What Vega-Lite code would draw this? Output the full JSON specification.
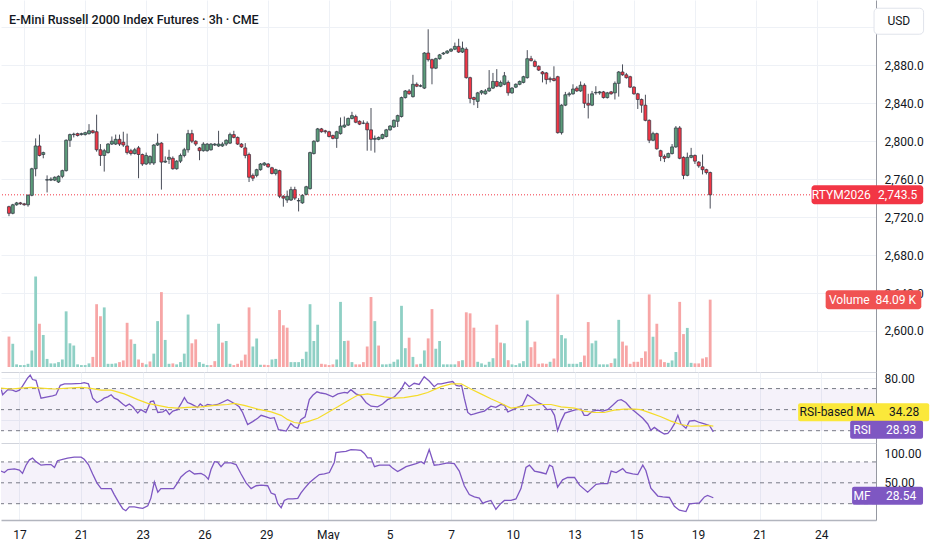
{
  "$schema": "https://vega.github.io/schema/vega-lite/v6.json",
  "background": "white",
  "padding": 0,
  "bounds": "flush",
  "spacing": 0,
  "config": {
    "font": "Roboto",
    "view": {"stroke": null},
    "axis": {"labelFont": "Roboto", "labelFontSize": 12, "labelColor": "#131722", "gridColor": "#eef1f6"}
  },
  "datasets": {
    "candles": [
      {"i":0,"o":2731,"h":2732,"l":2721,"c":2724,"v":38,"vd":"d"},
      {"i":1,"o":2724,"h":2734,"l":2723,"c":2733,"v":29,"vd":"u"},
      {"i":2,"o":2733,"h":2736,"l":2732,"c":2735,"v":3.3,"vd":"u"},
      {"i":3,"o":2735,"h":2736,"l":2733,"c":2734,"v":2.4,"vd":"u"},
      {"i":4,"o":2734,"h":2735,"l":2732,"c":2733,"v":2.4,"vd":"u"},
      {"i":5,"o":2733,"h":2744,"l":2731,"c":2743,"v":4,"vd":"u"},
      {"i":6,"o":2743,"h":2772,"l":2742,"c":2771,"v":20.7,"vd":"u"},
      {"i":7,"o":2771,"h":2803,"l":2763,"c":2795,"v":113,"vd":"u"},
      {"i":8,"o":2795,"h":2807,"l":2784,"c":2785,"v":54,"vd":"d"},
      {"i":9,"o":2786,"h":2789,"l":2782,"c":2788,"v":40,"vd":"u"},
      {"i":10,"o":2759,"h":2764,"l":2746,"c":2759.5,"v":10.1,"vd":"u"},
      {"i":11,"o":2759,"h":2762,"l":2758,"c":2760,"v":4.5,"vd":"u"},
      {"i":12,"o":2759,"h":2763,"l":2758,"c":2762,"v":4.5,"vd":"u"},
      {"i":13,"o":2757,"h":2764,"l":2756,"c":2763,"v":6.1,"vd":"u"},
      {"i":14,"o":2763,"h":2770,"l":2761,"c":2769,"v":9.4,"vd":"u"},
      {"i":15,"o":2769,"h":2802,"l":2768,"c":2801,"v":69.5,"vd":"u"},
      {"i":16,"o":2801,"h":2808,"l":2794,"c":2807,"v":29.6,"vd":"u"},
      {"i":17,"o":2807,"h":2809,"l":2804,"c":2807.5,"v":26.8,"vd":"u"},
      {"i":18,"o":2808,"h":2809,"l":2805,"c":2806,"v":3.3,"vd":"u"},
      {"i":19,"o":2807,"h":2809,"l":2806,"c":2808,"v":2.4,"vd":"u"},
      {"i":20,"o":2807,"h":2810,"l":2806,"c":2809,"v":2.4,"vd":"u"},
      {"i":21,"o":2808,"h":2818,"l":2807,"c":2811,"v":4.5,"vd":"u"},
      {"i":22,"o":2811,"h":2812,"l":2808,"c":2809,"v":12.6,"vd":"d"},
      {"i":23,"o":2810,"h":2828,"l":2789,"c":2791,"v":78.4,"vd":"d"},
      {"i":24,"o":2791,"h":2797,"l":2774,"c":2785,"v":63.4,"vd":"d"},
      {"i":25,"o":2785,"h":2792,"l":2768,"c":2790,"v":74.4,"vd":"u"},
      {"i":26,"o":2788,"h":2798,"l":2787,"c":2797,"v":4,"vd":"u"},
      {"i":27,"o":2797,"h":2805,"l":2796,"c":2800,"v":4,"vd":"u"},
      {"i":28,"o":2797,"h":2807,"l":2796,"c":2802,"v":4.5,"vd":"u"},
      {"i":29,"o":2802,"h":2807,"l":2795,"c":2797,"v":6.1,"vd":"d"},
      {"i":30,"o":2799,"h":2810,"l":2794,"c":2796,"v":8.2,"vd":"d"},
      {"i":31,"o":2795,"h":2808,"l":2786,"c":2788,"v":55.2,"vd":"d"},
      {"i":32,"o":2790,"h":2792,"l":2785,"c":2787,"v":34.5,"vd":"d"},
      {"i":33,"o":2787,"h":2793,"l":2786,"c":2791,"v":28.9,"vd":"u"},
      {"i":34,"o":2793,"h":2795,"l":2761,"c":2786,"v":9.4,"vd":"d"},
      {"i":35,"o":2786,"h":2787,"l":2774,"c":2776,"v":5.2,"vd":"d"},
      {"i":36,"o":2776,"h":2788,"l":2775,"c":2785,"v":3.3,"vd":"u"},
      {"i":37,"o":2777,"h":2785,"l":2775,"c":2784,"v":6.9,"vd":"d"},
      {"i":38,"o":2777,"h":2797,"l":2775,"c":2796,"v":16.7,"vd":"u"},
      {"i":39,"o":2796,"h":2808,"l":2795,"c":2798,"v":57.3,"vd":"u"},
      {"i":40,"o":2798,"h":2799,"l":2749,"c":2778,"v":93.5,"vd":"d"},
      {"i":41,"o":2778,"h":2784,"l":2777,"c":2779,"v":33.8,"vd":"u"},
      {"i":42,"o":2781,"h":2791,"l":2776,"c":2783,"v":4,"vd":"u"},
      {"i":43,"o":2782,"h":2784,"l":2770,"c":2771,"v":4.5,"vd":"d"},
      {"i":44,"o":2771,"h":2780,"l":2770,"c":2779,"v":3.3,"vd":"u"},
      {"i":45,"o":2779,"h":2787,"l":2777,"c":2785,"v":6.1,"vd":"u"},
      {"i":46,"o":2785,"h":2793,"l":2783,"c":2791,"v":16.7,"vd":"u"},
      {"i":47,"o":2791,"h":2812,"l":2788,"c":2808,"v":65.5,"vd":"u"},
      {"i":48,"o":2808,"h":2812,"l":2798,"c":2800,"v":29.6,"vd":"d"},
      {"i":49,"o":2800,"h":2801,"l":2795,"c":2797,"v":34.5,"vd":"d"},
      {"i":50,"o":2793,"h":2794,"l":2780,"c":2790,"v":6.1,"vd":"u"},
      {"i":51,"o":2790,"h":2799,"l":2789,"c":2797,"v":4,"vd":"u"},
      {"i":52,"o":2790,"h":2798,"l":2789,"c":2797,"v":2.4,"vd":"u"},
      {"i":53,"o":2791,"h":2798,"l":2790,"c":2797,"v":2.4,"vd":"d"},
      {"i":54,"o":2796,"h":2798,"l":2795,"c":2797,"v":7.3,"vd":"d"},
      {"i":55,"o":2795,"h":2811,"l":2794,"c":2797,"v":54,"vd":"u"},
      {"i":56,"o":2795,"h":2799,"l":2794,"c":2797,"v":30.5,"vd":"d"},
      {"i":57,"o":2797,"h":2802,"l":2795,"c":2801,"v":32.5,"vd":"u"},
      {"i":58,"o":2798,"h":2809,"l":2797,"c":2807,"v":4,"vd":"u"},
      {"i":59,"o":2807,"h":2811,"l":2803,"c":2804,"v":2.4,"vd":"d"},
      {"i":60,"o":2804,"h":2805,"l":2796,"c":2797,"v":4,"vd":"d"},
      {"i":61,"o":2797,"h":2798,"l":2793,"c":2794,"v":8.2,"vd":"d"},
      {"i":62,"o":2793,"h":2798,"l":2782,"c":2785,"v":15.5,"vd":"d"},
      {"i":63,"o":2786,"h":2788,"l":2757,"c":2762,"v":74.4,"vd":"d"},
      {"i":64,"o":2764,"h":2766,"l":2758,"c":2761,"v":25.6,"vd":"u"},
      {"i":65,"o":2764,"h":2771,"l":2762,"c":2770,"v":35.7,"vd":"u"},
      {"i":66,"o":2770,"h":2777,"l":2769,"c":2776,"v":2.8,"vd":"u"},
      {"i":67,"o":2775,"h":2778,"l":2774,"c":2777,"v":2.8,"vd":"d"},
      {"i":68,"o":2776,"h":2777,"l":2772,"c":2773,"v":2.4,"vd":"d"},
      {"i":69,"o":2772,"h":2773,"l":2765,"c":2766,"v":9.4,"vd":"u"},
      {"i":70,"o":2766,"h":2771,"l":2764,"c":2770,"v":10.1,"vd":"u"},
      {"i":71,"o":2769,"h":2770,"l":2740,"c":2742,"v":71.1,"vd":"d"},
      {"i":72,"o":2742,"h":2743,"l":2731,"c":2740,"v":52.1,"vd":"d"},
      {"i":73,"o":2738,"h":2748,"l":2735,"c":2742,"v":49.1,"vd":"d"},
      {"i":74,"o":2738,"h":2752,"l":2737,"c":2749,"v":6.1,"vd":"u"},
      {"i":75,"o":2749,"h":2752,"l":2738,"c":2740,"v":6.1,"vd":"u"},
      {"i":76,"o":2737,"h":2740,"l":2726,"c":2737.5,"v":6.1,"vd":"u"},
      {"i":77,"o":2735,"h":2744,"l":2734,"c":2743,"v":10.1,"vd":"u"},
      {"i":78,"o":2744,"h":2753,"l":2743,"c":2752,"v":19.1,"vd":"u"},
      {"i":79,"o":2750,"h":2789,"l":2749,"c":2788,"v":78.4,"vd":"u"},
      {"i":80,"o":2787,"h":2801,"l":2786,"c":2800,"v":32.5,"vd":"u"},
      {"i":81,"o":2800,"h":2814,"l":2799,"c":2813,"v":52.8,"vd":"u"},
      {"i":82,"o":2813,"h":2814,"l":2809,"c":2810,"v":4,"vd":"d"},
      {"i":83,"o":2811,"h":2812,"l":2808,"c":2810,"v":3.3,"vd":"d"},
      {"i":84,"o":2810,"h":2811,"l":2804,"c":2805,"v":2.4,"vd":"d"},
      {"i":85,"o":2806,"h":2807,"l":2802,"c":2803,"v":3.3,"vd":"d"},
      {"i":86,"o":2803,"h":2811,"l":2793,"c":2810,"v":9.4,"vd":"u"},
      {"i":87,"o":2808,"h":2825,"l":2807,"c":2816,"v":81.3,"vd":"u"},
      {"i":88,"o":2815,"h":2826,"l":2814,"c":2817,"v":32.5,"vd":"u"},
      {"i":89,"o":2817,"h":2825,"l":2816,"c":2824,"v":32.9,"vd":"d"},
      {"i":90,"o":2824,"h":2831,"l":2823,"c":2827,"v":6.1,"vd":"u"},
      {"i":91,"o":2826,"h":2828,"l":2819,"c":2820,"v":3.3,"vd":"d"},
      {"i":92,"o":2821,"h":2822,"l":2817,"c":2818,"v":3.3,"vd":"d"},
      {"i":93,"o":2819,"h":2822,"l":2818,"c":2819,"v":6.1,"vd":"d"},
      {"i":94,"o":2819,"h":2821,"l":2790,"c":2812,"v":25.6,"vd":"d"},
      {"i":95,"o":2812,"h":2835,"l":2790,"c":2802,"v":87.4,"vd":"d"},
      {"i":96,"o":2802,"h":2806,"l":2788,"c":2803,"v":57.3,"vd":"u"},
      {"i":97,"o":2802,"h":2805,"l":2801,"c":2804,"v":26.8,"vd":"d"},
      {"i":98,"o":2803,"h":2808,"l":2802,"c":2807,"v":3.3,"vd":"u"},
      {"i":99,"o":2805,"h":2813,"l":2804,"c":2812,"v":3.3,"vd":"u"},
      {"i":100,"o":2812,"h":2817,"l":2811,"c":2816,"v":4,"vd":"u"},
      {"i":101,"o":2815,"h":2823,"l":2814,"c":2822,"v":6.5,"vd":"u"},
      {"i":102,"o":2821,"h":2828,"l":2815,"c":2827,"v":9.4,"vd":"u"},
      {"i":103,"o":2826,"h":2847,"l":2825,"c":2846,"v":76.4,"vd":"u"},
      {"i":104,"o":2846,"h":2854,"l":2845,"c":2853,"v":23.5,"vd":"u"},
      {"i":105,"o":2853,"h":2855,"l":2849,"c":2850,"v":36.6,"vd":"d"},
      {"i":106,"o":2847,"h":2870,"l":2846,"c":2860,"v":12.6,"vd":"u"},
      {"i":107,"o":2860,"h":2862,"l":2857,"c":2858,"v":3.3,"vd":"d"},
      {"i":108,"o":2858,"h":2860,"l":2857,"c":2858.5,"v":4,"vd":"u"},
      {"i":109,"o":2856,"h":2894,"l":2855,"c":2893,"v":20.7,"vd":"u"},
      {"i":110,"o":2893,"h":2918,"l":2884,"c":2886,"v":35.7,"vd":"d"},
      {"i":111,"o":2886,"h":2887,"l":2860,"c":2877,"v":72.3,"vd":"d"},
      {"i":112,"o":2877,"h":2888,"l":2876,"c":2887,"v":22.8,"vd":"u"},
      {"i":113,"o":2887,"h":2892,"l":2886,"c":2891,"v":32.5,"vd":"u"},
      {"i":114,"o":2892,"h":2894,"l":2891,"c":2893,"v":3.3,"vd":"u"},
      {"i":115,"o":2893,"h":2896,"l":2892,"c":2895,"v":3.3,"vd":"u"},
      {"i":116,"o":2895,"h":2898,"l":2894,"c":2897,"v":3.3,"vd":"u"},
      {"i":117,"o":2897,"h":2904,"l":2896,"c":2900,"v":3.3,"vd":"u"},
      {"i":118,"o":2900,"h":2908,"l":2893,"c":2894,"v":7.3,"vd":"d"},
      {"i":119,"o":2894,"h":2905,"l":2893,"c":2898,"v":8.5,"vd":"u"},
      {"i":120,"o":2897,"h":2899,"l":2866,"c":2867,"v":68.3,"vd":"d"},
      {"i":121,"o":2867,"h":2868,"l":2840,"c":2845,"v":67,"vd":"d"},
      {"i":122,"o":2846,"h":2847,"l":2838,"c":2844,"v":49.1,"vd":"d"},
      {"i":123,"o":2842,"h":2852,"l":2835,"c":2851,"v":6.5,"vd":"u"},
      {"i":124,"o":2851,"h":2854,"l":2849,"c":2853,"v":4.5,"vd":"u"},
      {"i":125,"o":2850,"h":2855,"l":2849,"c":2853,"v":2.8,"vd":"u"},
      {"i":126,"o":2853,"h":2875,"l":2852,"c":2856,"v":6.5,"vd":"u"},
      {"i":127,"o":2856,"h":2872,"l":2855,"c":2863,"v":11,"vd":"u"},
      {"i":128,"o":2863,"h":2876,"l":2857,"c":2858,"v":52.8,"vd":"d"},
      {"i":129,"o":2858,"h":2864,"l":2857,"c":2862,"v":30.5,"vd":"d"},
      {"i":130,"o":2860,"h":2873,"l":2859,"c":2869,"v":29.6,"vd":"u"},
      {"i":131,"o":2862,"h":2864,"l":2848,"c":2851,"v":8.5,"vd":"d"},
      {"i":132,"o":2851,"h":2857,"l":2850,"c":2856,"v":3.3,"vd":"u"},
      {"i":133,"o":2857,"h":2861,"l":2856,"c":2860,"v":2.4,"vd":"u"},
      {"i":134,"o":2860,"h":2864,"l":2859,"c":2863,"v":4.5,"vd":"u"},
      {"i":135,"o":2862,"h":2869,"l":2861,"c":2868,"v":7.3,"vd":"u"},
      {"i":136,"o":2867,"h":2896,"l":2866,"c":2887,"v":58.1,"vd":"u"},
      {"i":137,"o":2887,"h":2890,"l":2884,"c":2885,"v":24.7,"vd":"d"},
      {"i":138,"o":2884,"h":2886,"l":2878,"c":2879,"v":31.7,"vd":"d"},
      {"i":139,"o":2879,"h":2880,"l":2874,"c":2875,"v":4,"vd":"d"},
      {"i":140,"o":2873,"h":2874,"l":2862,"c":2871,"v":4.5,"vd":"d"},
      {"i":141,"o":2872,"h":2873,"l":2860,"c":2865,"v":4,"vd":"d"},
      {"i":142,"o":2866,"h":2868,"l":2862,"c":2865,"v":6.5,"vd":"u"},
      {"i":143,"o":2866,"h":2879,"l":2863,"c":2864,"v":10.6,"vd":"d"},
      {"i":144,"o":2868,"h":2869,"l":2808,"c":2809,"v":90.6,"vd":"d"},
      {"i":145,"o":2809,"h":2839,"l":2807,"c":2838,"v":39.9,"vd":"u"},
      {"i":146,"o":2838,"h":2852,"l":2837,"c":2849,"v":35.7,"vd":"u"},
      {"i":147,"o":2849,"h":2852,"l":2847,"c":2850,"v":4,"vd":"u"},
      {"i":148,"o":2850,"h":2860,"l":2849,"c":2855,"v":4,"vd":"u"},
      {"i":149,"o":2856,"h":2858,"l":2852,"c":2853,"v":4,"vd":"u"},
      {"i":150,"o":2853,"h":2863,"l":2852,"c":2859,"v":6.1,"vd":"u"},
      {"i":151,"o":2859,"h":2861,"l":2835,"c":2840,"v":14.3,"vd":"d"},
      {"i":152,"o":2840,"h":2850,"l":2824,"c":2838,"v":56.1,"vd":"d"},
      {"i":153,"o":2838,"h":2853,"l":2837,"c":2850,"v":29.6,"vd":"u"},
      {"i":154,"o":2851,"h":2858,"l":2849,"c":2851.5,"v":32.9,"vd":"u"},
      {"i":155,"o":2851,"h":2853,"l":2849,"c":2852,"v":3.3,"vd":"u"},
      {"i":156,"o":2852,"h":2853,"l":2845,"c":2846,"v":3.3,"vd":"u"},
      {"i":157,"o":2846,"h":2852,"l":2845,"c":2851,"v":3.3,"vd":"u"},
      {"i":158,"o":2852,"h":2853,"l":2849,"c":2850,"v":4.9,"vd":"d"},
      {"i":159,"o":2851,"h":2863,"l":2844,"c":2861,"v":10.6,"vd":"u"},
      {"i":160,"o":2861,"h":2874,"l":2847,"c":2873,"v":58.9,"vd":"u"},
      {"i":161,"o":2873,"h":2881,"l":2869,"c":2870,"v":31.7,"vd":"d"},
      {"i":162,"o":2870,"h":2872,"l":2866,"c":2867,"v":26.8,"vd":"d"},
      {"i":163,"o":2868,"h":2869,"l":2856,"c":2857,"v":4,"vd":"d"},
      {"i":164,"o":2857,"h":2858,"l":2849,"c":2850,"v":6.5,"vd":"d"},
      {"i":165,"o":2850,"h":2851,"l":2834,"c":2844,"v":6.5,"vd":"d"},
      {"i":166,"o":2844,"h":2845,"l":2830,"c":2838,"v":11.3,"vd":"d"},
      {"i":167,"o":2838,"h":2849,"l":2821,"c":2822,"v":19.5,"vd":"d"},
      {"i":168,"o":2822,"h":2823,"l":2798,"c":2801,"v":90.6,"vd":"d"},
      {"i":169,"o":2801,"h":2810,"l":2800,"c":2808,"v":37.8,"vd":"u"},
      {"i":170,"o":2808,"h":2809,"l":2791,"c":2792,"v":54,"vd":"d"},
      {"i":171,"o":2790,"h":2791,"l":2779,"c":2784,"v":9.4,"vd":"d"},
      {"i":172,"o":2784,"h":2786,"l":2778,"c":2782,"v":6.1,"vd":"d"},
      {"i":173,"o":2783,"h":2788,"l":2782,"c":2787,"v":5.2,"vd":"u"},
      {"i":174,"o":2787,"h":2797,"l":2786,"c":2794,"v":8.2,"vd":"u"},
      {"i":175,"o":2794,"h":2816,"l":2793,"c":2814,"v":18.7,"vd":"u"},
      {"i":176,"o":2814,"h":2816,"l":2781,"c":2782,"v":81.3,"vd":"d"},
      {"i":177,"o":2783,"h":2784,"l":2760,"c":2764,"v":41.1,"vd":"d"},
      {"i":178,"o":2764,"h":2788,"l":2763,"c":2783,"v":48.8,"vd":"u"},
      {"i":179,"o":2783,"h":2793,"l":2782,"c":2785,"v":5.2,"vd":"u"},
      {"i":180,"o":2785,"h":2786,"l":2776,"c":2779,"v":4.5,"vd":"d"},
      {"i":181,"o":2778,"h":2779,"l":2772,"c":2774,"v":4.5,"vd":"d"},
      {"i":182,"o":2773,"h":2786,"l":2765,"c":2770,"v":10.6,"vd":"d"},
      {"i":183,"o":2770,"h":2771,"l":2765,"c":2767,"v":12.2,"vd":"d"},
      {"i":184,"o":2767,"h":2768,"l":2729,"c":2743.5,"v":84.09,"vd":"d"}
    ],
    "rsi": [
      {"i":-0.7,"r":69},{"i":-0.35,"r":64.1},{"i":1,"r":69},{"i":2.2,"r":68.5},{"i":3.1,"r":67.1},{"i":4,"r":68.5},{"i":4.8,"r":72.3},{"i":6.1,"r":79.9},{"i":6.8,"r":82.7},{"i":7.4,"r":78.6},{"i":8.3,"r":77.8},{"i":9.6,"r":60.9},{"i":11.3,"r":62.2},{"i":12.6,"r":63.1},{"i":13.5,"r":64.1},{"i":14.6,"r":73.1},{"i":15.7,"r":74.5},{"i":17.4,"r":74.5},{"i":20,"r":75},{"i":20.8,"r":75.6},{"i":21.9,"r":74.5},{"i":23,"r":60.9},{"i":24.1,"r":56.8},{"i":25.2,"r":58.7},{"i":26,"r":60.9},{"i":26.9,"r":62.2},{"i":27.8,"r":64.1},{"i":28.6,"r":60.9},{"i":29.5,"r":59.5},{"i":30.8,"r":55.4},{"i":31.6,"r":53.3},{"i":32.5,"r":55.4},{"i":33.4,"r":52.7},{"i":34.7,"r":46.7},{"i":35.5,"r":50},{"i":36.8,"r":47.3},{"i":38,"r":57.6},{"i":38.8,"r":58.2},{"i":39.9,"r":47.3},{"i":41.2,"r":47.8},{"i":42,"r":50},{"i":42.9,"r":45.4},{"i":43.8,"r":48.6},{"i":45,"r":50},{"i":45.9,"r":55.4},{"i":46.8,"r":61.4},{"i":47.6,"r":56.8},{"i":48.5,"r":55.4},{"i":50.2,"r":52.2},{"i":50.9,"r":55.4},{"i":51.8,"r":52.7},{"i":52.8,"r":54.9},{"i":54.1,"r":54.1},{"i":55.4,"r":54.9},{"i":56.5,"r":56.8},{"i":58,"r":59.5},{"i":59.3,"r":56.8},{"i":60.2,"r":54.9},{"i":61,"r":52.7},{"i":61.9,"r":47.3},{"i":63.2,"r":35.9},{"i":64.5,"r":38.6},{"i":65.8,"r":41.8},{"i":66.7,"r":44.6},{"i":68,"r":43.2},{"i":69.1,"r":41.8},{"i":70.1,"r":42.4},{"i":71.2,"r":31},{"i":72.3,"r":30.4},{"i":73.2,"r":29.6},{"i":74.4,"r":36.9},{"i":75.3,"r":33.7},{"i":76.2,"r":32.3},{"i":77,"r":40.5},{"i":78.1,"r":43.2},{"i":79.2,"r":59.5},{"i":80.1,"r":63.6},{"i":81.2,"r":66.9},{"i":82.2,"r":65.8},{"i":83.5,"r":65},{"i":85.3,"r":62.2},{"i":86.6,"r":65},{"i":88.3,"r":66.3},{"i":89.1,"r":65.8},{"i":90,"r":69},{"i":91.3,"r":65},{"i":92.6,"r":63.1},{"i":93.9,"r":56.8},{"i":95.2,"r":53.3},{"i":96.9,"r":52.7},{"i":98.2,"r":55.4},{"i":99.5,"r":59.5},{"i":101.3,"r":62.2},{"i":103,"r":69},{"i":104,"r":75.9},{"i":105.1,"r":71.8},{"i":106.4,"r":75},{"i":107.7,"r":73.9},{"i":109,"r":81.3},{"i":110.3,"r":77.2},{"i":111.6,"r":71.8},{"i":112.5,"r":74.5},{"i":113.4,"r":74.5},{"i":115.1,"r":75.9},{"i":116.4,"r":76.7},{"i":117.3,"r":73.1},{"i":118.1,"r":72.3},{"i":118.7,"r":73.1},{"i":119.4,"r":60.9},{"i":120.3,"r":47.3},{"i":121.1,"r":45.1},{"i":122,"r":45.9},{"i":123.3,"r":47.3},{"i":124.6,"r":48.6},{"i":126.3,"r":53.3},{"i":127.6,"r":52.2},{"i":128.9,"r":54.9},{"i":129.8,"r":54.1},{"i":130.7,"r":47.8},{"i":132,"r":50},{"i":133.2,"r":52.2},{"i":134.5,"r":54.1},{"i":135.8,"r":64.1},{"i":137.1,"r":60.9},{"i":138.4,"r":56.8},{"i":139.7,"r":54.9},{"i":140.9,"r":50},{"i":141.9,"r":50.5},{"i":142.8,"r":44.6},{"i":143.6,"r":30.1},{"i":144.5,"r":39.1},{"i":145.5,"r":46.7},{"i":147.1,"r":48.6},{"i":148.4,"r":50},{"i":149.7,"r":50.5},{"i":150.5,"r":44.6},{"i":151.4,"r":44.6},{"i":152.7,"r":48.6},{"i":154,"r":49.5},{"i":155.3,"r":48.6},{"i":156.6,"r":50},{"i":157.9,"r":54.1},{"i":159.2,"r":58.7},{"i":160.1,"r":59.5},{"i":161.3,"r":56.8},{"i":162.6,"r":51.4},{"i":164.4,"r":45.9},{"i":165.7,"r":41.8},{"i":167,"r":36.4},{"i":167.8,"r":30.4},{"i":168.7,"r":33.1},{"i":170,"r":29.6},{"i":171.3,"r":26.9},{"i":172.2,"r":27.4},{"i":173,"r":31},{"i":173.9,"r":36.4},{"i":174.8,"r":44.6},{"i":175.6,"r":36.4},{"i":176.9,"r":32.3},{"i":177.8,"r":39.1},{"i":179.1,"r":39.7},{"i":180.4,"r":37.8},{"i":181.7,"r":36.4},{"i":183,"r":35},{"i":184,"r":28.93}
    ],
    "ma": [
      {"i":-0.78,"m":70.4},{"i":1.8,"m":69.6},{"i":4.4,"m":70.4},{"i":7,"m":71.2},{"i":9.6,"m":70.4},{"i":13.1,"m":69.6},{"i":16.5,"m":70.4},{"i":20,"m":71.2},{"i":22.1,"m":70.4},{"i":25.2,"m":68.5},{"i":27.8,"m":68.5},{"i":31.2,"m":65},{"i":34.7,"m":59.5},{"i":37.3,"m":56},{"i":39.9,"m":54.1},{"i":42.5,"m":52.2},{"i":45,"m":51.4},{"i":47.6,"m":52.2},{"i":51.1,"m":52.7},{"i":54.6,"m":54.1},{"i":58,"m":54.9},{"i":59.7,"m":56},{"i":62.3,"m":54.1},{"i":65.8,"m":50.5},{"i":69.3,"m":47.8},{"i":71.9,"m":44.6},{"i":73.6,"m":40.5},{"i":75.3,"m":37.8},{"i":77,"m":36.9},{"i":78.8,"m":38.6},{"i":81.4,"m":41.8},{"i":84,"m":47.3},{"i":86.6,"m":52.7},{"i":89.1,"m":58.2},{"i":91.7,"m":63.6},{"i":94.3,"m":65},{"i":98.7,"m":62.2},{"i":101.3,"m":60.9},{"i":103.8,"m":61.4},{"i":107.3,"m":63.6},{"i":109.9,"m":66.3},{"i":112.5,"m":70.4},{"i":113.4,"m":71.8},{"i":116,"m":74.5},{"i":118.6,"m":74.5},{"i":121.1,"m":69.6},{"i":123.7,"m":65},{"i":126.3,"m":60.3},{"i":128.9,"m":56},{"i":131.5,"m":51.4},{"i":134.1,"m":52.7},{"i":136.7,"m":54.1},{"i":139.3,"m":54.9},{"i":141.9,"m":54.9},{"i":144.5,"m":52.7},{"i":148,"m":51.4},{"i":150.5,"m":48.6},{"i":153.1,"m":47.3},{"i":155.7,"m":47.3},{"i":158.3,"m":49.5},{"i":160.9,"m":50.5},{"i":163.5,"m":50.5},{"i":165.2,"m":50},{"i":167.8,"m":46.7},{"i":170.4,"m":43.2},{"i":173,"m":39.1},{"i":175.6,"m":35.9},{"i":178.2,"m":34.2},{"i":180.8,"m":34.5},{"i":182.5,"m":35},{"i":184,"m":34.28}
    ],
    "mf": [
      {"i":-0.78,"f":66.9},{"i":0.1,"f":64.8},{"i":1,"f":69},{"i":2.7,"f":69.9},{"i":4,"f":68.2},{"i":4.8,"f":63.5},{"i":5.7,"f":75.3},{"i":6.6,"f":83},{"i":7.4,"f":85.5},{"i":8.3,"f":80.4},{"i":9.6,"f":75.3},{"i":10.9,"f":76.2},{"i":12.2,"f":76.2},{"i":13.1,"f":72},{"i":13.9,"f":81.7},{"i":15.2,"f":83.8},{"i":16.5,"f":85.5},{"i":18.2,"f":86.8},{"i":20,"f":86.8},{"i":20.8,"f":83.8},{"i":21.9,"f":76.2},{"i":23,"f":62.7},{"i":24.1,"f":50},{"i":25.2,"f":41.6},{"i":26.5,"f":41.6},{"i":27.8,"f":41.6},{"i":28.6,"f":33.1},{"i":29.9,"f":20.4},{"i":30.8,"f":12.8},{"i":31.6,"f":9.9},{"i":32.5,"f":15.4},{"i":33.8,"f":15.4},{"i":35.1,"f":14.1},{"i":36,"f":13.2},{"i":37.3,"f":17},{"i":38.1,"f":28},{"i":39,"f":51.3},{"i":39.9,"f":36.5},{"i":40.7,"f":41.6},{"i":42.5,"f":41.6},{"i":44,"f":41.6},{"i":45,"f":50},{"i":45.9,"f":58.4},{"i":47.2,"f":64.8},{"i":48.1,"f":67.7},{"i":49.4,"f":62.7},{"i":51.1,"f":63.5},{"i":52.1,"f":60.6},{"i":53,"f":55.1},{"i":53.7,"f":69},{"i":54.6,"f":80.4},{"i":55.4,"f":79.6},{"i":56.3,"f":73.2},{"i":57.2,"f":78.7},{"i":58.9,"f":78.7},{"i":60.2,"f":76.2},{"i":61.5,"f":62.7},{"i":62.8,"f":50},{"i":64.1,"f":41.6},{"i":65.4,"f":45.8},{"i":66.7,"f":46.6},{"i":68.4,"f":45.8},{"i":69.3,"f":35.2},{"i":70.3,"f":33.1},{"i":71,"f":20.4},{"i":71.9,"f":14.1},{"i":72.7,"f":24.7},{"i":73.6,"f":26.8},{"i":74.9,"f":26.8},{"i":76.2,"f":27.6},{"i":77,"f":35.2},{"i":77.9,"f":41.6},{"i":79.2,"f":50},{"i":80.5,"f":56.3},{"i":81.8,"f":61.8},{"i":83.1,"f":62.7},{"i":84.4,"f":64.8},{"i":85.7,"f":79.6},{"i":86.1,"f":93.5},{"i":87.4,"f":94.4},{"i":88.7,"f":95.2},{"i":90,"f":97.7},{"i":91.3,"f":97.3},{"i":92.6,"f":96.5},{"i":93.5,"f":92.2},{"i":94.3,"f":85.9},{"i":95.2,"f":85.9},{"i":96.1,"f":73.2},{"i":97.4,"f":75.3},{"i":98.7,"f":75.3},{"i":100,"f":75.3},{"i":100.8,"f":71.1},{"i":102.1,"f":66.1},{"i":103,"f":69},{"i":104.3,"f":73.2},{"i":105.6,"f":75.3},{"i":106.9,"f":77.5},{"i":108.2,"f":80.4},{"i":109,"f":77.5},{"i":110.3,"f":97.7},{"i":111.6,"f":75.3},{"i":112.9,"f":76.2},{"i":115.1,"f":78.7},{"i":116.8,"f":77.5},{"i":118.1,"f":66.9},{"i":119.4,"f":45.8},{"i":120.7,"f":33.1},{"i":122,"f":29.7},{"i":123.3,"f":28},{"i":124.2,"f":20.4},{"i":125,"f":22.5},{"i":126.3,"f":24.7},{"i":127.6,"f":12},{"i":128.9,"f":20.4},{"i":129.8,"f":24.7},{"i":131.5,"f":24.7},{"i":132.8,"f":26.8},{"i":134.1,"f":41.6},{"i":135.4,"f":72},{"i":136.3,"f":75.3},{"i":137.6,"f":66.9},{"i":139.3,"f":64.8},{"i":140.6,"f":62.7},{"i":141.5,"f":75.3},{"i":142.3,"f":73.2},{"i":143.6,"f":43.7},{"i":144.9,"f":54.2},{"i":146.2,"f":57.6},{"i":148,"f":57.6},{"i":149.3,"f":46.6},{"i":151.4,"f":36.5},{"i":153.6,"f":47.9},{"i":154.9,"f":48.7},{"i":156.6,"f":48.7},{"i":157.5,"f":66.9},{"i":158.8,"f":64.8},{"i":160.5,"f":70.3},{"i":161.4,"f":64.8},{"i":163.1,"f":62.7},{"i":164.4,"f":61.8},{"i":165.7,"f":75.3},{"i":166.5,"f":67.7},{"i":167.8,"f":42.4},{"i":169.6,"f":31},{"i":170.9,"f":29.7},{"i":172.6,"f":28.9},{"i":173.9,"f":16.2},{"i":175.2,"f":10.7},{"i":176.9,"f":8.6},{"i":177.8,"f":19.6},{"i":179.1,"f":20.4},{"i":180.4,"f":21.3},{"i":181.7,"f":29.7},{"i":182.5,"f":31.8},{"i":184,"f":28.54}
    ]
  },
  "vconcat": [
    {
      "width": 875,
      "height": 372,
      "title": {"text": "E-Mini Russell 2000 Index Futures · 3h · CME", "anchor": "start", "frame": "group", "offset": -26, "dx": 8, "fontSize": 12.5, "fontWeight": 500, "font": "Roboto", "color": "#131722"},
      "layer": [
        {
          "layer": [
            {
              "data": {"name": "candles"},
              "mark": {"type": "bar", "size": 2.8},
              "encoding": {
                "x": {"field": "i", "type": "quantitative", "scale": {"domain": [-0.78, 226.2], "nice": false, "zero": false},
                      "axis": {"title": null, "values": [4,20,36,52,68,84,100,116,132,148,164,180,196,212], "labels": false, "ticks": false, "grid": true, "domain": true, "domainColor": "#d1d4dc"}},
                "y": {"field": "v", "type": "quantitative", "scale": {"domain": [0, 452], "nice": false}, "axis": null},
                "color": {"field": "vd", "type": "nominal", "scale": {"domain": ["u", "d"], "range": ["#8fd0c5", "#f7a6a6"]}, "legend": null}
              }
            },
            {
              "data": {"values": [{"v": 84.09, "name": "Volume", "txt": "84.09 K"}]},
              "layer": [
                {"mark": {"type": "bar", "size": 19, "color": "#f05252", "cornerRadius": 3},
                 "encoding": {"x": {"datum": 214.3, "type": "quantitative", "title": null}, "x2": {"datum": 239.4}, "y": {"field": "v", "type": "quantitative", "axis": null}}},
                {"mark": {"type": "text", "color": "white", "fontSize": 12},
                 "encoding": {"x": {"datum": 220.5, "type": "quantitative", "title": null}, "y": {"field": "v", "type": "quantitative", "axis": null}, "text": {"field": "name"}}},
                {"mark": {"type": "text", "color": "white", "fontSize": 12},
                 "encoding": {"x": {"datum": 232.7, "type": "quantitative", "title": null}, "y": {"field": "v", "type": "quantitative", "axis": null}, "text": {"field": "txt"}}}
              ]
            }
          ]
        },
        {
          "layer": [
            {
              "data": {"values": [{"p": 2743.5}]},
              "mark": {"type": "rule", "color": "#f23645", "strokeDash": [1, 2], "strokeWidth": 1},
              "encoding": {
                "y": {"field": "p", "type": "quantitative", "scale": {"domain": [2562, 2943.6], "nice": false, "zero": false},
                      "axis": {"title": null, "orient": "right", "values": [2600,2640,2680,2720,2760,2800,2840,2880,2920], "labelExpr": "datum.value >= 2920 ? '' : format(datum.value, ',.1f')", "ticks": false, "grid": true, "domain": true, "domainColor": "#9598a1", "labelPadding": 8, "labelOverlap": false}}
              }
            },
            {
              "data": {"name": "candles"},
              "mark": {"type": "rule", "color": "#4a4e59", "strokeWidth": 1},
              "encoding": {
                "x": {"field": "i", "type": "quantitative", "title": null},
                "y": {"field": "l", "type": "quantitative", "title": null},
                "y2": {"field": "h"}
              }
            },
            {
              "data": {"name": "candles"},
              "mark": {"type": "bar", "size": 3, "stroke": "#2f3340", "strokeWidth": 0.7},
              "encoding": {
                "x": {"field": "i", "type": "quantitative", "title": null},
                "y": {"field": "o", "type": "quantitative", "title": null},
                "y2": {"field": "c"},
                "fill": {"condition": {"test": "datum.c >= datum.o", "value": "#5b9c7a"}, "value": "#f23645"}
              }
            },
            {
              "data": {"values": [{"p": 2743.5, "name": "RTYM2026", "txt": "2,743.5"}]},
              "layer": [
                {"mark": {"type": "bar", "size": 19, "color": "#f23645", "cornerRadius": 3},
                 "encoding": {"x": {"datum": 210.6, "type": "quantitative", "title": null}, "x2": {"datum": 239.9}, "y": {"field": "p", "type": "quantitative", "title": null}}},
                {"mark": {"type": "text", "color": "white", "fontSize": 12},
                 "encoding": {"x": {"datum": 218.4, "type": "quantitative", "title": null}, "y": {"field": "p", "type": "quantitative", "title": null}, "text": {"field": "name"}}},
                {"mark": {"type": "text", "color": "white", "fontSize": 12},
                 "encoding": {"x": {"datum": 233.2, "type": "quantitative", "title": null}, "y": {"field": "p", "type": "quantitative", "title": null}, "text": {"field": "txt"}}}
              ]
            },
            {
              "data": {"values": [{"name": "USD"}]},
              "layer": [
                {"mark": {"type": "bar", "size": 26, "fill": "white", "stroke": "#e0e3eb", "cornerRadius": 4},
                 "encoding": {"x": {"datum": 227, "type": "quantitative", "title": null}, "x2": {"datum": 240}, "y": {"datum": 2926.5, "type": "quantitative", "title": null}}},
                {"mark": {"type": "text", "color": "#131722", "fontSize": 12},
                 "encoding": {"x": {"datum": 233.5, "type": "quantitative", "title": null}, "y": {"datum": 2926.5, "type": "quantitative", "title": null}, "text": {"field": "name"}}}
              ]
            }
          ]
        }
      ],
      "resolve": {"scale": {"y": "independent"}}
    },
    {
      "width": 875,
      "height": 71,
      "layer": [
        {
          "data": {"values": [{"hi": 70, "lo": 30}]},
          "mark": {"type": "rect", "color": "#7e57c2", "opacity": 0.08},
          "encoding": {
            "y": {"field": "hi", "type": "quantitative", "scale": {"domain": [23.06, 81], "nice": false, "zero": false},
                  "axis": {"title": null, "orient": "right", "values": [40, 80], "labelExpr": "datum.value == 40 ? '' : format(datum.value, '.2f')", "ticks": false, "grid": true, "domain": true, "domainColor": "#9598a1", "labelPadding": 8, "labelOverlap": false}},
            "y2": {"field": "lo"}
          }
        },
        {
          "data": {"values": [{"lv": 70}, {"lv": 50}, {"lv": 30}]},
          "mark": {"type": "rule", "color": "#787b86", "strokeDash": [4, 4], "strokeWidth": 1},
          "encoding": {"y": {"field": "lv", "type": "quantitative", "title": null}}
        },
        {
          "data": {"name": "rsi"},
          "mark": {"type": "line", "color": "#7e57c2", "strokeWidth": 1.3, "clip": true},
          "encoding": {
            "x": {"field": "i", "type": "quantitative", "scale": {"domain": [-0.78, 226.2], "nice": false, "zero": false},
                  "axis": {"title": null, "values": [4,20,36,52,68,84,100,116,132,148,164,180,196,212], "labels": false, "ticks": false, "grid": true, "domain": true, "domainColor": "#d1d4dc"}},
            "y": {"field": "r", "type": "quantitative", "title": null}
          }
        },
        {
          "data": {"name": "ma"},
          "mark": {"type": "line", "color": "#f5dc2a", "strokeWidth": 1.2, "clip": true},
          "encoding": {
            "x": {"field": "i", "type": "quantitative", "title": null},
            "y": {"field": "m", "type": "quantitative", "title": null}
          }
        },
        {
          "data": {"values": [{"r": 34.28, "name": "RSI-based MA", "txt": "34.28"}]},
          "layer": [
            {"mark": {"type": "bar", "size": 18, "color": "#fbe83a", "cornerRadius": 2, "yOffset": -14},
             "encoding": {"x": {"datum": 206, "type": "quantitative", "title": null}, "x2": {"datum": 240}, "y": {"field": "r", "type": "quantitative", "title": null}}},
            {"mark": {"type": "text", "color": "#131722", "fontSize": 12, "yOffset": -14},
             "encoding": {"x": {"datum": 216.1, "type": "quantitative", "title": null}, "y": {"field": "r", "type": "quantitative", "title": null}, "text": {"field": "name"}}},
            {"mark": {"type": "text", "color": "#131722", "fontSize": 12, "yOffset": -14},
             "encoding": {"x": {"datum": 233.5, "type": "quantitative", "title": null}, "y": {"field": "r", "type": "quantitative", "title": null}, "text": {"field": "txt"}}}
          ]
        },
        {
          "data": {"values": [{"r": 28.93, "name": "RSI", "txt": "28.93"}]},
          "layer": [
            {"mark": {"type": "bar", "size": 18, "color": "#7e57c2", "cornerRadius": 2, "yOffset": -2},
             "encoding": {"x": {"datum": 219.5, "type": "quantitative", "title": null}, "x2": {"datum": 238.4}, "y": {"field": "r", "type": "quantitative", "title": null}}},
            {"mark": {"type": "text", "color": "white", "fontSize": 12, "yOffset": -2},
             "encoding": {"x": {"datum": 222.6, "type": "quantitative", "title": null}, "y": {"field": "r", "type": "quantitative", "title": null}, "text": {"field": "name"}}},
            {"mark": {"type": "text", "color": "white", "fontSize": 12, "yOffset": -2},
             "encoding": {"x": {"datum": 232.7, "type": "quantitative", "title": null}, "y": {"field": "r", "type": "quantitative", "title": null}, "text": {"field": "txt"}}}
          ]
        }
      ]
    },
    {
      "width": 875,
      "height": 77,
      "layer": [
        {
          "data": {"values": [{"hi": 80, "lo": 20}]},
          "mark": {"type": "rect", "color": "#7e57c2", "opacity": 0.08},
          "encoding": {
            "y": {"field": "hi", "type": "quantitative", "scale": {"domain": [3.75, 100], "nice": false, "zero": false},
                  "axis": {"title": null, "orient": "right", "values": [50, 100], "format": ".2f", "ticks": false, "grid": false, "domain": true, "domainColor": "#9598a1", "labelPadding": 8, "labelOverlap": false,
                           "labelBaseline": {"condition": {"test": "datum.value == 100", "value": "top"}, "value": "middle"}}},
            "y2": {"field": "lo"}
          }
        },
        {
          "data": {"values": [{"lv": 80}, {"lv": 50}, {"lv": 20}]},
          "mark": {"type": "rule", "color": "#787b86", "strokeDash": [4, 4], "strokeWidth": 1},
          "encoding": {"y": {"field": "lv", "type": "quantitative", "title": null}}
        },
        {
          "data": {"name": "mf"},
          "mark": {"type": "line", "color": "#7e57c2", "strokeWidth": 1.3, "clip": true},
          "encoding": {
            "x": {"field": "i", "type": "quantitative", "scale": {"domain": [-0.78, 226.2], "nice": false, "zero": false},
                  "axis": {"title": null, "values": [4,20,36,52,68,84,100,116,132,148,164,180,196,212],
                           "labelExpr": "['17','21','23','26','29','May','5','7','10','13','15','19','21','24'][(datum.value - 4) / 16]",
                           "ticks": false, "grid": true, "domain": true, "domainColor": "#b2b5be", "domainWidth": 1.5, "labelPadding": 9, "labelFlush": false, "labelOverlap": false}},
            "y": {"field": "f", "type": "quantitative", "title": null}
          }
        },
        {
          "data": {"values": [{"f": 28.54, "name": "MF", "txt": "28.54"}]},
          "layer": [
            {"mark": {"type": "bar", "size": 18, "color": "#7e57c2", "cornerRadius": 2, "yOffset": -2},
             "encoding": {"x": {"datum": 220, "type": "quantitative", "title": null}, "x2": {"datum": 238.4}, "y": {"field": "f", "type": "quantitative", "title": null}}},
            {"mark": {"type": "text", "color": "white", "fontSize": 12, "yOffset": -2},
             "encoding": {"x": {"datum": 222.6, "type": "quantitative", "title": null}, "y": {"field": "f", "type": "quantitative", "title": null}, "text": {"field": "name"}}},
            {"mark": {"type": "text", "color": "white", "fontSize": 12, "yOffset": -2},
             "encoding": {"x": {"datum": 232.7, "type": "quantitative", "title": null}, "y": {"field": "f", "type": "quantitative", "title": null}, "text": {"field": "txt"}}}
          ]
        }
      ]
    }
  ]
}
